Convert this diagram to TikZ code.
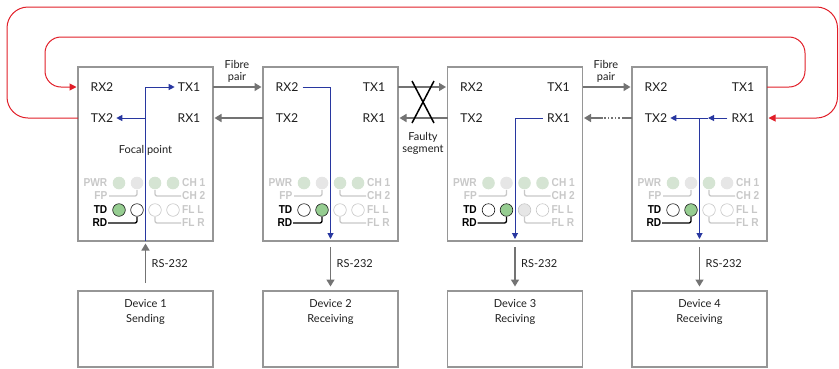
\documentclass[tikz,border=0pt]{standalone}
\usepackage{fontspec}
\setmainfont{Lato}
\newfontfamily\ledfont[FakeStretch=0.88]{Liberation Sans}
\usetikzlibrary{arrows.meta,calc}
\definecolor{boxgray}{RGB}{150,150,150}
\definecolor{arrgray}{RGB}{115,115,115}
\definecolor{fibred}{RGB}{225,30,40}
\definecolor{sigblue}{RGB}{40,55,160}
\definecolor{txt}{RGB}{30,30,30}
\definecolor{faint}{RGB}{200,200,200}
\definecolor{lgreen}{RGB}{213,228,211}
\definecolor{lgray}{RGB}{230,230,230}
\definecolor{ledgreen}{RGB}{150,205,145}
\begin{document}
\begin{tikzpicture}[x=1pt,y=-1pt,
  unit/.style={draw=boxgray,line width=1.1pt,minimum width=135pt,minimum height=174pt,inner sep=0pt,outer sep=0pt},
  device/.style={draw=boxgray,line width=1.1pt,minimum width=135pt,minimum height=76pt,inner sep=0pt,outer sep=0pt},
  port/.style={font=\fontsize{12.2}{13}\selectfont,text=txt,inner sep=0pt},
  lbl/.style={font=\fontsize{11}{12}\selectfont,text=txt,align=center,inner sep=0pt},
  devlbl/.style={font=\fontsize{11}{14.5}\selectfont,text=txt,align=center,inner sep=0pt},
  fibre/.style={draw=arrgray,line width=1.5pt,-{Triangle[length=7pt,width=8pt]},shorten >=1.5pt},
  loopline/.style={draw=fibred,line width=1pt,-{Triangle[length=7pt,width=7pt]},shorten >=1.5pt},
  sig/.style={draw=sigblue,line width=1pt,-{Triangle[length=6pt,width=6pt]}},
  led/.style={font=\ledfont\bfseries\fontsize{11.5}{12}\selectfont,inner sep=0pt},
  ledc/.style={line width=0.6pt},
]
\useasboundingbox (0,0) rectangle (839,368);

% units and devices
\foreach \i/\cx/\dn/\dt in {1/145.5/1/Sending,2/330.5/2/Receiving,3/515/3/Reciving,4/699.5/4/Receiving} {
  \node[unit] (u\i) at (\cx,154) {};
  \node[device] (d\i) at (\cx,329) {};
  \node[port] (u\i-rx2) at (\cx-43.5,87) {RX2};
  \node[port] (u\i-tx1) at (\cx+43.5,87) {TX1};
  \node[port] (u\i-tx2) at (\cx-43.5,118) {TX2};
  \node[port] (u\i-rx1) at (\cx+43.5,118) {RX1};
  \node[devlbl] (d\i-t) at ($(d\i.north)+(0,21)$) {Device \dn\\\dt};
}

% LED panels
\foreach \i/\pa/\pb/\pc/\pd/\ta/\tb/\tc in {1/lgreen/lgray/lgreen/lgreen/ledgreen/white/white,
    2/lgreen/lgray/lgreen/lgreen/white/ledgreen/white,
    3/lgreen/lgray/lgreen/lgreen/white/ledgreen/lgray,
    4/lgreen/lgray/lgreen/lgray/white/ledgreen/white} {
  \begin{scope}[shift={(u\i.north west)}]
    \fill[\pa] (41,116) circle[radius=6.3pt];
    \fill[\pb] (59,116) circle[radius=6.3pt];
    \fill[\pc] (77,116) circle[radius=6.3pt];
    \fill[\pd] (95,116) circle[radius=6.3pt];
    \draw[ledc,draw=txt,fill=\ta] (41,143) circle[radius=6.3pt];
    \draw[ledc,draw=txt,fill=\tb] (59,143) circle[radius=6.3pt];
    \draw[ledc,draw=faint,fill=\tc] (77,143) circle[radius=6.3pt];
    \draw[ledc,draw=faint,fill=white] (95,143) circle[radius=6.3pt];
    \node[led,text=faint,anchor=east] (u\i-pwr) at (29.5,116) {PWR};
    \node[led,text=faint,anchor=east] (u\i-fp) at (29.5,129) {FP};
    \node[led,text=black,anchor=east] (u\i-td) at (29.5,143) {TD};
    \node[led,text=black,anchor=east] (u\i-rd) at (29.5,156) {RD};
    \node[led,text=faint,anchor=west] (u\i-ch1) at (104,116) {CH 1};
    \node[led,text=faint,anchor=west] (u\i-ch2) at (104,129) {CH 2};
    \node[led,text=faint,anchor=west] (u\i-fll) at (104,143) {FL L};
    \node[led,text=faint,anchor=west] (u\i-flr) at (104,156) {FL R};
    \draw[faint,line width=1.3pt,rounded corners=2pt] (31,129) -| (59,123);
    \draw[faint,line width=1.3pt,rounded corners=2pt] (77,123) |- (103,129);
    \draw[black,line width=1.3pt,rounded corners=2pt] (30,156) -| (59,150);
    \draw[faint,line width=1.3pt,rounded corners=2pt] (77,150) |- (103,156);
  \end{scope}
}

\node[port,font=\fontsize{11}{12}\selectfont] (focal) at (145.5,150) {Focal point};

% fibre links between units
\draw[fibre] (u1.east |- u1-tx1) -- (u2.west |- u2-rx2);
\draw[fibre] (u2.west |- u2-tx2) -- (u1.east |- u1-rx1);
\draw[fibre] (u2.east |- u2-tx1) -- (u3.west |- u3-rx2);
\draw[fibre] (u3.west |- u3-tx2) -- (u2.east |- u2-rx1);
\draw[fibre] (u3.east |- u3-tx1) -- (u4.west |- u4-rx2);
\draw[arrgray,line width=1.5pt] (u4.west |- u4-tx2) -- ++(-9,0) coordinate (dA);
\draw[arrgray,line width=1.5pt,dash pattern=on 1.5pt off 2pt] (dA) -- ++(-20,0) coordinate (dB);
\draw[fibre] (dB) -- (u3.east |- u3-rx1);

% faulty X
\draw[black,line width=1.5pt] (412,81) -- (434,123) (434,81) -- (412,123);

\node[lbl] (fp1) at (237,71) {Fibre\\pair};
\node[lbl] (fp2) at (606,71) {Fibre\\pair};
\node[lbl] (faulty) at (423,143) {Faulty\\segment};

% red ring closures
\coordinate (o1) at (7,118);
\coordinate (o2) at (7,7);
\coordinate (o3) at (837.5,7);
\coordinate (o4) at (837.5,118);
\draw[loopline,rounded corners=21pt] (u1.west |- u1-tx2) -- (o1) -- (o2) -- (o3) -- (o4) -- (u4.east |- u4-rx1);
\coordinate (i1) at (805,87);
\coordinate (i2) at (805,37);
\coordinate (i3) at (45,37);
\coordinate (i4) at (45,87);
\draw[loopline,rounded corners=16pt] (u4.east |- u4-tx1) -- (i1) -- (i2) -- (i3) -- (i4) -- (u1.west |- u1-rx2);

% blue signal paths
\draw[sig] (u1.south) |- ($(u1-tx1.west)+(-3,0)$);
\draw[sig] (u1.center |- u1-tx2) -- ($(u1-tx2.east)+(3,0)$);
\draw[sig] ($(u2-rx2.east)+(4,0)$) -| ($(u2.south)+(0,-2)$);
\draw[sig] ($(u3-rx1.west)+(-4,0)$) -| ($(u3.south)+(0,-2)$);
\draw[sig] ($(u4-rx1.west)+(-4,0)$) -- ($(u4.center |- u4-rx1)+(8.5,0)$);
\draw[sig] ($(u4.center |- u4-rx1)+(8.5,0)$) -- ($(u4-tx2.east)+(3,0)$);
\draw[sig] (u4.center |- u4-rx1) -- ($(u4.south)+(0,-2)$);

% RS-232 links
\draw[fibre] ($(d1.north)+(0,-8)$) -- ($(u1.south)+(0,1)$);
\foreach \i in {2,3,4} {
  \draw[fibre] ($(u\i.south)+(0,6)$) -- ($(d\i.north)+(0,-3)$);
}
\foreach \i in {1,2,3,4} {
  \node[lbl,anchor=west] (rs\i) at ($(u\i.south)+(6,23)$) {RS-232};
}
\end{tikzpicture}
\end{document}
